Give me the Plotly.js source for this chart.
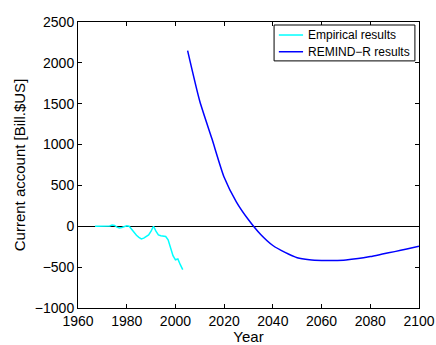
<!DOCTYPE html>
<html>
<head>
<meta charset="utf-8">
<script src="https://cdn.plot.ly/plotly-3.0.1.min.js"></script>
<style>html,body{margin:0;padding:0;background:#fff;}</style>
</head>
<body>
<div id="chart" style="width:436px;height:345px;"></div>
<script>
const empYears = [1967,1968,1969,1970,1971,1972,1973,1974,1975,1976,1977,1978,1979,1980,1981,1982,1983,1984,1985,1986,1987,1988,1989,1990,1991,1992,1993,1994,1995,1996,1997,1998,1999,2000,2001,2002,2003];
const empValues = [0,0,0,0,0,0,5,15,10,-10,-20,-15,0,5,0,-40,-75,-110,-135,-155,-145,-120,-105,-60,0,-60,-105,-115,-120,-125,-165,-250,-360,-410,-400,-470,-530];
const remYears = [2005,2010,2015,2020,2025,2030,2035,2040,2045,2050,2055,2060,2065,2070,2075,2080,2085,2090,2095,2100];
const remValues = [2150,1530,1070,600,300,80,-100,-235,-320,-385,-410,-418,-418,-412,-395,-370,-340,-310,-278,-245];
const xTicks = [1960,1980,2000,2020,2040,2060,2080,2100];
const yTicks = [-1000,-500,0,500,1000,1500,2000,2500];
const seriesNames = ['Empirical results', 'REMIND\u2212R results'];
const seriesColors = ['#00ffff', '#0000ff'];

const fam = 'Liberation Sans, Arial, sans-serif';
const data = [
  {x: empYears, y: empValues, type: 'scatter', mode: 'lines', name: seriesNames[0],
   line: {color: seriesColors[0], width: 1.5}},
  {x: remYears, y: remValues, type: 'scatter', mode: 'lines', name: seriesNames[1],
   line: {color: seriesColors[1], width: 1.5, shape: 'spline', smoothing: 0.6}}
];

// custom legend (paper coordinates)
const legRows = [0.9545, 0.896];
const shapes = [
  {type: 'rect', xref: 'paper', yref: 'paper', x0: 0.575, x1: 0.988, y0: 0.864, y1: 0.9895,
   line: {color: '#000', width: 1}, fillcolor: '#fff', layer: 'above'}
];
const annotations = [];
legRows.forEach((yy, i) => {
  shapes.push({type: 'line', xref: 'paper', yref: 'paper', x0: 0.589, x1: 0.660, y0: yy, y1: yy,
               line: {color: seriesColors[i], width: 1.5}, layer: 'above'});
  annotations.push({xref: 'paper', yref: 'paper', x: 0.6686, y: yy, xanchor: 'left', yanchor: 'middle',
                    text: seriesNames[i], showarrow: false, font: {family: fam, size: 12, color: '#000'}});
});

const layout = {
  width: 436, height: 345,
  margin: {l: 78, r: 17, t: 22, b: 37},
  paper_bgcolor: '#fff', plot_bgcolor: '#fff',
  font: {family: fam, size: 14, color: '#000'},
  showlegend: false,
  shapes: shapes,
  annotations: annotations,
  xaxis: {range: [1960, 2100], tickvals: xTicks, ticktext: xTicks.map(String),
          ticks: 'inside', ticklen: 4, tickcolor: '#000', showline: true, linecolor: '#000', linewidth: 1,
          mirror: 'ticks', showgrid: false, zeroline: false,
          title: {text: 'Year', font: {family: fam, size: 15}, standoff: 0},
          tickfont: {family: fam, size: 14}},
  yaxis: {range: [-1000, 2500], tickvals: yTicks, ticktext: yTicks.map(v => v < 0 ? '\u2212' + Math.abs(v) : String(v)),
          ticks: 'inside', ticklen: 4, tickcolor: '#000', showline: true, linecolor: '#000', linewidth: 1,
          mirror: 'ticks', showgrid: false, zeroline: true, zerolinecolor: '#000', zerolinewidth: 1,
          title: {text: 'Current account [Bill.$US]', font: {family: fam, size: 15}, standoff: 5},
          tickfont: {family: fam, size: 14}}
};
Plotly.newPlot('chart', data, layout, {displayModeBar: false, staticPlot: true});
</script>
</body>
</html>
